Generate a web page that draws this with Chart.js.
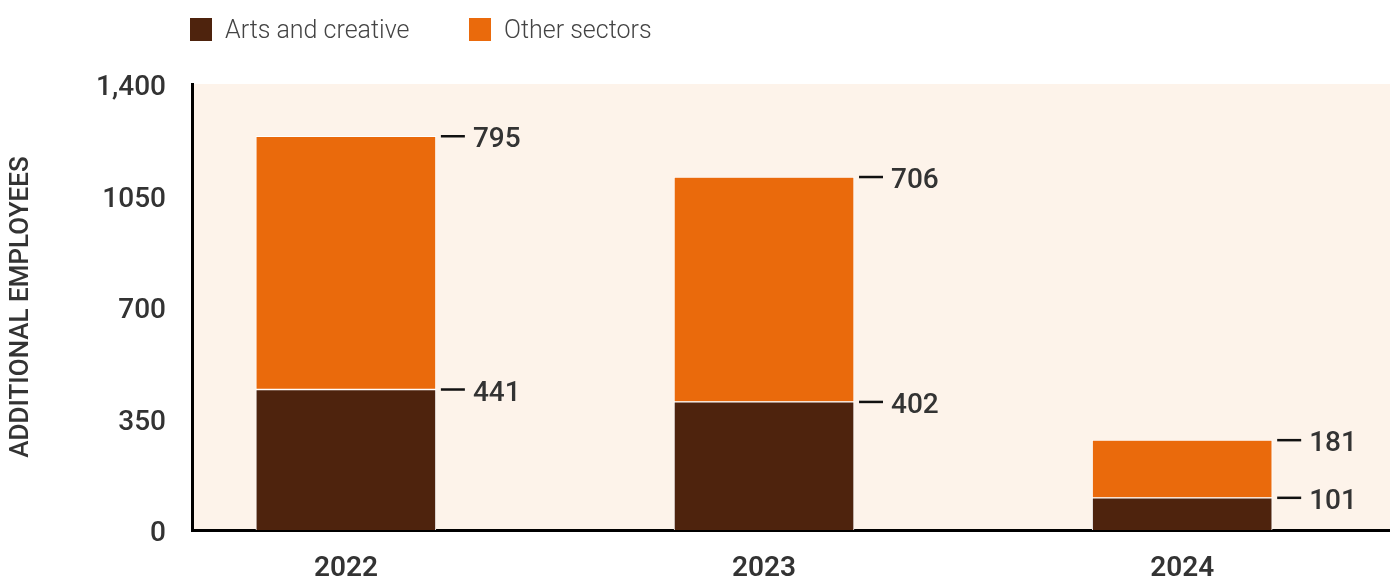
<!DOCTYPE html>
<html>
<head>
<meta charset="utf-8">
<script src="https://cdn.jsdelivr.net/npm/chart.js@4.4.1/dist/chart.umd.min.js"></script>
<style>
html,body{margin:0;padding:0;background:#fff;overflow:hidden;}
#wrap{width:1390px;height:578px;position:relative;}
</style>
</head>
<body>
<div id="wrap"><canvas id="c"></canvas></div>
<script>
const years = ['2022', '2023', '2024'];
const artsCreative = [441, 402, 101];
const otherSectors = [795, 706, 181];
const yTickValues = [0, 350, 700, 1050, 1400];
const yTickLabels = ['0', '350', '700', '1050', '1,400'];
const seriesNames = ['Arts and creative', 'Other sectors'];
const seriesColors = ['#4E230D', '#EA6A0C'];

const NUM_FONT = 'Roboto, "Noto Sans", sans-serif';

const bgPlugin = {
  id: 'bg',
  beforeDraw(chart) {
    const {ctx, chartArea: a} = chart;
    ctx.save();
    ctx.fillStyle = '#FDF3EA';
    ctx.fillRect(a.left, a.top, a.right - a.left, a.bottom - a.top);
    ctx.restore();
  }
};

const labelPlugin = {
  id: 'dashLabels',
  afterDatasetsDraw(chart) {
    const {ctx} = chart;
    ctx.save();
    chart.data.datasets.forEach((ds, di) => {
      const meta = chart.getDatasetMeta(di);
      meta.data.forEach((el, i) => {
        const x0 = el.x + el.width / 2;
        const y = el.y;
        ctx.strokeStyle = '#111';
        ctx.lineWidth = 2.5;
        ctx.beginPath();
        ctx.moveTo(x0 + 5, y);
        ctx.lineTo(x0 + 29, y);
        ctx.stroke();
        ctx.fillStyle = '#333';
        ctx.font = '500 28px ' + NUM_FONT;
        ctx.textAlign = 'left';
        ctx.textBaseline = 'middle';
        ctx.fillText(String(ds.data[i].y), x0 + 37, y + 4);
      });
    });
    ctx.restore();
  }
};

const legendPlugin = {
  id: 'customLegend',
  afterDraw(chart) {
    const {ctx} = chart;
    const positions = [190, 469];
    ctx.save();
    seriesNames.forEach((name, i) => {
      ctx.fillStyle = seriesColors[i];
      ctx.fillRect(positions[i], 18, 22, 23);
      ctx.fillStyle = '#444';
      ctx.font = '300 25px Roboto, sans-serif';
      ctx.textAlign = 'left';
      ctx.textBaseline = 'middle';
      ctx.fillText(name, positions[i] + 35, 32);
    });
    ctx.restore();
  }
};

const toPoints = arr => arr.map((v, i) => ({x: i, y: v}));

new Chart(document.getElementById('c'), {
  type: 'bar',
  data: {
    datasets: [
      {
        label: seriesNames[0],
        data: toPoints(artsCreative),
        backgroundColor: seriesColors[0],
        borderColor: '#ffffff',
        borderWidth: 1,
        borderSkipped: 'start',
        barThickness: 180
      },
      {
        label: seriesNames[1],
        data: toPoints(otherSectors),
        backgroundColor: seriesColors[1],
        borderColor: '#ffffff',
        borderWidth: 1,
        borderSkipped: false,
        barThickness: 180
      }
    ]
  },
  options: {
    responsive: true,
    maintainAspectRatio: false,
    animation: false,
    layout: {padding: {top: 84, left: 0, right: 0, bottom: 0}},
    plugins: {legend: {display: false}, tooltip: {enabled: false}},
    scales: {
      x: {
        type: 'linear',
        stacked: true,
        offset: false,
        min: -0.368,
        max: 2.497,
        grid: {display: false},
        border: {display: true, color: '#000', width: 3},
        afterBuildTicks(scale) { scale.ticks = years.map((_, i) => ({value: i})); },
        afterFit(scale) { scale.height = 48; },
        ticks: {
          padding: 14,
          color: '#333',
          font: {family: NUM_FONT, size: 28, weight: '600'},
          callback: v => years[v]
        }
      },
      y: {
        stacked: true,
        min: 0,
        max: 1400,
        grid: {display: false},
        border: {display: true, color: '#000', width: 3},
        afterBuildTicks(scale) { scale.ticks = yTickValues.map(v => ({value: v})); },
        afterFit(scale) { scale.width = 192; },
        ticks: {
          padding: 18,
          labelOffset: 4,
          color: '#333',
          font: {family: NUM_FONT, size: 28, weight: '500'},
          callback: (v, i) => yTickLabels[yTickValues.indexOf(v)]
        },
        title: {
          display: true,
          text: 'ADDITIONAL EMPLOYEES',
          color: '#333',
          font: {family: NUM_FONT, size: 26, weight: '500'},
          padding: {top: 6, bottom: 0}
        }
      }
    }
  },
  plugins: [bgPlugin, labelPlugin, legendPlugin]
});
</script>
</body>
</html>
